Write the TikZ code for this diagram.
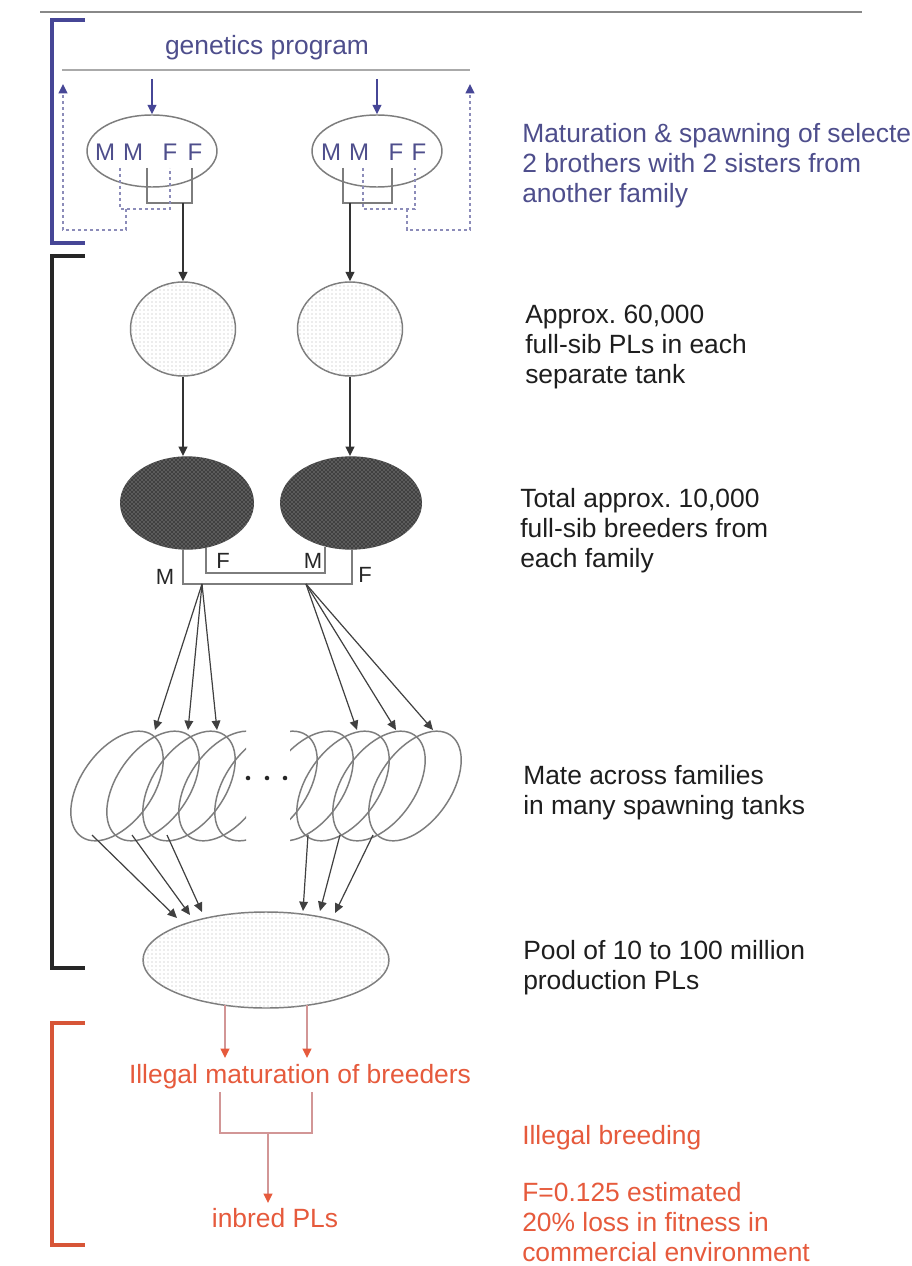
\documentclass[tikz,border=0pt]{standalone}
\usepackage{fontspec}
\setmainfont{Liberation Sans}
\frenchspacing
\usetikzlibrary{shapes.geometric,patterns,arrows.meta,calc}
\definecolor{bluetxt}{RGB}{78,78,140}
\definecolor{bluebr}{RGB}{70,70,150}
\definecolor{bluedash}{RGB}{140,140,185}
\definecolor{redtxt}{RGB}{230,90,60}
\definecolor{redbr}{RGB}{215,85,55}
\definecolor{redln}{RGB}{210,150,150}
\definecolor{lgray}{RGB}{170,170,170}
\definecolor{mgray}{RGB}{125,125,125}
\definecolor{dtxt}{RGB}{30,30,30}
\begin{document}
\begin{tikzpicture}[x=0.75pt,y=-0.75pt,
  txt/.style={font=\fontsize{19.8}{22.5}\selectfont, anchor=north west, align=left, inner sep=0, text=dtxt},
  ctr/.style={font=\fontsize{19.8}{22.5}\selectfont, inner sep=0},
  letter/.style={font=\fontsize{18}{20}\selectfont, text=bluetxt, inner sep=0},
  mf/.style={font=\fontsize{16.5}{18}\selectfont, inner sep=0, text=black!85},
  brk/.style={line width=3pt},
  gline/.style={draw=mgray, line width=1.2pt},
  fan/.style={draw=black!75, line width=0.9pt},
  tip/.style={-{Triangle[length=7pt,width=6.5pt]}},
  dline/.style={draw=bluedash, line width=1.3pt, dash pattern=on 2.5pt off 2pt},
  ell/.style={ellipse, draw=mgray, line width=1.1pt, inner sep=0},
  light/.style={ellipse, draw=mgray, line width=1.1pt, inner sep=0, fill=white,
     postaction={pattern=dots, pattern color=gray!60}},
  dark/.style={ellipse, inner sep=0, fill=black!75,
     postaction={pattern=crosshatch dots, pattern color=gray!55}},
  tank/.style={draw=mgray, line width=1.1pt}
]
\useasboundingbox (0,0) rectangle (911,1266);
\clip (0,0) rectangle (911,1266);
\fill[white] (0,0) rectangle (911,1266);

% top rule
\draw[lgray!80!black, line width=2.2pt] (40,12) -- (862,12);

% brackets
\draw[brk, bluebr] (85,20) -- (52,20) -- (52,243) -- (85,243);
\draw[brk, black!85] (85,256) -- (52,256) -- (52,968) -- (85,968);
\draw[brk, redbr] (85,1023) -- (52,1023) -- (52,1245) -- (85,1245);

% genetics program
\node[ctr, text=bluetxt] (gp) at (267,48) {genetics program};
\draw[lgray, line width=2.2pt] (62,70) -- (470,70);

% broodstock ellipses
\node[ell, minimum width=97.5pt, minimum height=54pt] (e1) at (152,151) {};
\node[ell, minimum width=97.5pt, minimum height=54pt] (e2) at (377,151) {};
\draw[bluebr, line width=1.2pt, -{Triangle[length=7pt,width=6.5pt]}] (152,79) -- (e1.north);
\draw[bluebr, line width=1.2pt, -{Triangle[length=7pt,width=6.5pt]}] (377,79) -- (e2.north);

\node[letter] (m1a) at (105,152) {M};
\node[letter] (m1b) at (133,152) {M};
\node[letter] (f1a) at (170,152) {F};
\node[letter] (f1b) at (195,152) {F};
\node[letter] (m2a) at (331,152) {M};
\node[letter] (m2b) at (359,152) {M};
\node[letter] (f2a) at (396,152) {F};
\node[letter] (f2b) at (419,152) {F};

% light circles
\node[light, minimum width=78.75pt, minimum height=70.5pt] (c1) at (183,329) {};
\node[light, minimum width=78.75pt, minimum height=70.5pt] (c2) at (350,329) {};

% family connectors (left)
\draw[gline] (147,168) -- (147,203) -- (192,203) -- (192,168);
\draw[dline] (120,168) -- (120,209) -- (170,209) -- (170,168);
\draw[dline, -{Triangle[length=7pt,width=6.5pt,color=bluebr]}] (126,209) -- (126,230) -- (63,230) -- (63,84);
\draw[gline, tip, black!80] (183,203) -- (c1.north);
% family connectors (right)
\draw[gline] (343,168) -- (343,203) -- (392,203) -- (392,168);
\draw[dline] (363,168) -- (363,209) -- (415,209) -- (415,168);
\draw[dline, -{Triangle[length=7pt,width=6.5pt,color=bluebr]}] (407,209) -- (407,230) -- (470,230) -- (470,84);
\draw[gline, tip, black!80] (350,203) -- (c2.north);

% dark ellipses
\node[dark, minimum width=100.5pt, minimum height=70pt] (d1) at (187,503) {};
\node[dark, minimum width=106.5pt, minimum height=70pt] (d2) at (351,503) {};
\draw[gline, tip, black!80] (c1.south) -- (c1.south |- d1.north);
\draw[gline, tip, black!80] (c2.south) -- (c2.south |- d2.north);

% M/F crossing
\draw[gline] (183,549) |- (352,584) -- (352,549);
\draw[gline] (206,548) |- (325,573) -- (325,547);
\node[mf] (lm1) at (165,577) {M};
\node[mf] (lf1) at (223,561) {F};
\node[mf] (lm2) at (313,561) {M};
\node[mf] (lf2) at (365,575) {F};
\coordinate (fl) at (202,584);
\coordinate (fr) at (306,584);

% spawning tanks
\coordinate (ta1) at (155,730);
\coordinate (ta2) at (188,730);
\coordinate (ta3) at (217,730);
\coordinate (tb1) at (357,730);
\coordinate (tb2) at (396,730);
\coordinate (tb3) at (433,730);
\draw[fan, tip] (fl) -- (ta1);
\draw[fan, tip] (fl) -- (ta2);
\draw[fan, tip] (fl) -- (ta3);
\draw[fan, tip] (fr) -- (tb1);
\draw[fan, tip] (fr) -- (tb2);
\draw[fan, tip] (fr) -- (tb3);
\begin{scope}
  \clip (40,700) rectangle (246,870);
  \foreach \cx in {117,153,189,225,261} {
    \draw[tank, rotate around={55:(\cx,786)}] (\cx,786) ellipse [x radius=46.5pt, y radius=27pt];
  }
\end{scope}
\begin{scope}
  \clip (290,700) rectangle (480,870);
  \foreach \cx in {271,307,343,379,415} {
    \draw[tank, rotate around={55:(\cx,786)}] (\cx,786) ellipse [x radius=46.5pt, y radius=27pt];
  }
\end{scope}
\fill[black!85] (248,778) circle (1.7pt) (267,778) circle (1.7pt) (285,778) circle (1.7pt);

% pool
\node[light, minimum width=184.5pt, minimum height=72pt] (pool) at (266,960) {};

% tank to pool arrows
\draw[fan, tip] (92,835) -- (177,918);
\draw[fan, tip] (132,835) -- (190,915);
\draw[fan, tip] (167,835) -- (202,912);
\draw[fan, tip] (308,835) -- (303,911);
\draw[fan, tip] (340,835) -- (320,911);
\draw[fan, tip] (373,835) -- (335,913);

% illegal breeding
\node[ctr, text=redtxt] (ill) at (300,1077) {Illegal maturation of breeders};
\node[ctr, text=redtxt] (inb) at (275,1218) {inbred PLs};
\draw[redln, line width=1.2pt, -{Triangle[length=7pt,width=6.5pt,color=redtxt]}] (225,1005) -- (225,1058);
\draw[redln, line width=1.2pt, -{Triangle[length=7pt,width=6.5pt,color=redtxt]}] (307,1005) -- (307,1058);
\draw[redln, line width=1.2pt] (220,1092) |- (312,1133) -- (312,1092);
\draw[redln, line width=1.2pt, -{Triangle[length=7pt,width=6.5pt,color=redtxt]}] (268,1133) -- (268,1203);

% right-hand texts
\node[txt, text=bluetxt] (t1) at (522,123) {Maturation \& spawning of selecte\\2 brothers with 2 sisters from\\another family};
\node[txt] (t2) at (525,305) {Approx. 60,000\\full-sib PLs in each\\separate tank};
\node[txt] (t3) at (520,488) {Total approx. 10,000\\full-sib breeders from\\each family};
\node[txt] (t4) at (523,765) {Mate across families\\in many spawning tanks};
\node[txt] (t5) at (523,940) {Pool of 10 to 100 million\\production PLs};
\node[txt, text=redtxt] (t6) at (522,1125) {Illegal breeding};
\node[txt, text=redtxt] (t7) at (522,1182) {F=0.125 estimated\\20\% loss in fitness in\\commercial environment};
\end{tikzpicture}
\end{document}
